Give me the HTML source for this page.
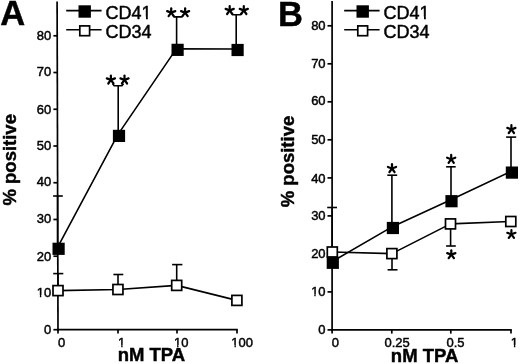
<!DOCTYPE html>
<html><head><meta charset="utf-8"><style>
html,body{margin:0;padding:0;background:#fff;overflow:hidden;}
svg{display:block;}
text{font-family:"Liberation Sans",sans-serif;fill:#000;stroke:#000;stroke-width:0.45px;}
</style></head><body>
<svg width="520" height="364" viewBox="0 0 520 364">
<defs><symbol id="ast" overflow="visible"><g stroke-width="2.2" stroke-linecap="round">
<line x1="0" y1="0" x2="0" y2="-4.3"/><line x1="0" y1="0" x2="-4.1" y2="-1.5"/><line x1="0" y1="0" x2="4.1" y2="-1.5"/>
<line x1="0" y1="0" x2="-2.6" y2="3.6"/><line x1="0" y1="0" x2="2.6" y2="3.6"/></g></symbol></defs>
<rect width="520" height="364" fill="#fff"/>
<g stroke="#000" fill="none">
<line x1="57.10" y1="1.50" x2="58.00" y2="330.50" stroke-width="1.7"/>
<line x1="57.20" y1="329.70" x2="237.80" y2="329.70" stroke-width="1.7"/>
<line x1="53.40" y1="329.70" x2="58.00" y2="329.70" stroke-width="1.7"/>
<line x1="53.40" y1="292.96" x2="57.90" y2="292.96" stroke-width="1.7"/>
<line x1="53.40" y1="256.22" x2="57.80" y2="256.22" stroke-width="1.7"/>
<line x1="53.40" y1="219.48" x2="57.70" y2="219.48" stroke-width="1.7"/>
<line x1="53.40" y1="182.74" x2="57.60" y2="182.74" stroke-width="1.7"/>
<line x1="53.40" y1="146.00" x2="57.50" y2="146.00" stroke-width="1.7"/>
<line x1="53.40" y1="109.26" x2="57.40" y2="109.26" stroke-width="1.7"/>
<line x1="53.40" y1="72.52" x2="57.30" y2="72.52" stroke-width="1.7"/>
<line x1="53.40" y1="35.78" x2="57.20" y2="35.78" stroke-width="1.7"/>
<line x1="58.00" y1="329.70" x2="58.00" y2="333.60" stroke-width="1.7"/>
<line x1="118.00" y1="329.70" x2="118.00" y2="333.60" stroke-width="1.7"/>
<line x1="177.00" y1="329.70" x2="177.00" y2="333.60" stroke-width="1.7"/>
<line x1="237.00" y1="329.70" x2="237.00" y2="333.60" stroke-width="1.7"/>
<line x1="57.60" y1="248.00" x2="57.60" y2="196.00" stroke-width="1.6"/>
<line x1="53.10" y1="196.00" x2="62.80" y2="196.00" stroke-width="1.6"/>
<line x1="118.20" y1="135.00" x2="118.20" y2="85.80" stroke-width="1.6"/>
<polyline points="112.60,83.80 114.20,85.80 121.90,85.80 123.50,83.80" fill="none" stroke-width="1.6" stroke-linejoin="round"/>
<line x1="176.60" y1="49.00" x2="176.60" y2="16.90" stroke-width="1.6"/>
<polyline points="172.60,14.90 174.20,16.90 181.70,16.90 183.30,14.90" fill="none" stroke-width="1.6" stroke-linejoin="round"/>
<line x1="236.20" y1="49.00" x2="236.20" y2="14.70" stroke-width="1.6"/>
<polyline points="231.30,12.70 232.90,14.70 240.20,14.70 241.80,12.70" fill="none" stroke-width="1.6" stroke-linejoin="round"/>
<polyline points="57.30,247.80 117.70,134.90 176.30,48.85 236.30,49.00" fill="none" stroke-width="1.6" stroke-linejoin="round"/>
<line x1="58.00" y1="290.00" x2="58.00" y2="273.60" stroke-width="1.6"/>
<line x1="53.20" y1="273.60" x2="63.30" y2="273.60" stroke-width="1.6"/>
<line x1="118.00" y1="289.00" x2="118.00" y2="274.50" stroke-width="1.6"/>
<line x1="113.40" y1="274.50" x2="123.30" y2="274.50" stroke-width="1.6"/>
<line x1="176.70" y1="285.00" x2="176.70" y2="264.60" stroke-width="1.6"/>
<line x1="172.10" y1="264.60" x2="182.40" y2="264.60" stroke-width="1.6"/>
<polyline points="58.00,290.60 117.95,289.50 176.70,285.40 236.90,300.40" fill="none" stroke-width="1.6" stroke-linejoin="round"/>
<rect x="52.50" y="242.70" width="12.2" height="12.2" fill="#000" stroke="none"/>
<rect x="112.90" y="129.80" width="12.2" height="12.2" fill="#000" stroke="none"/>
<rect x="171.50" y="43.75" width="12.2" height="12.2" fill="#000" stroke="none"/>
<rect x="231.50" y="43.90" width="12.2" height="12.2" fill="#000" stroke="none"/>
<rect x="53.00" y="285.60" width="10.0" height="10.0" fill="#fff" stroke-width="1.7"/>
<rect x="112.95" y="284.50" width="10.0" height="10.0" fill="#fff" stroke-width="1.7"/>
<rect x="171.70" y="280.40" width="10.0" height="10.0" fill="#fff" stroke-width="1.7"/>
<rect x="231.90" y="295.40" width="10.0" height="10.0" fill="#fff" stroke-width="1.7"/>
<use href="#ast" x="110.9" y="79.9"/>
<use href="#ast" x="124.5" y="79.9"/>
<use href="#ast" x="171.2" y="12.6"/>
<use href="#ast" x="185.1" y="12.6"/>
<use href="#ast" x="229.7" y="10.4"/>
<use href="#ast" x="243.8" y="10.4"/>
<line x1="66.20" y1="10.60" x2="101.60" y2="10.60" stroke-width="1.6"/>
<rect x="78.50" y="5.30" width="12.4" height="12.4" fill="#000" stroke="none"/>
<line x1="66.20" y1="29.80" x2="101.60" y2="29.80" stroke-width="1.6"/>
<rect x="79.80" y="25.90" width="9.8" height="9.8" fill="#fff" stroke-width="1.7"/>
<line x1="332.10" y1="1.00" x2="332.10" y2="330.70" stroke-width="1.7"/>
<line x1="331.30" y1="329.90" x2="511.80" y2="329.90" stroke-width="1.7"/>
<line x1="327.50" y1="329.90" x2="332.10" y2="329.90" stroke-width="1.7"/>
<line x1="327.50" y1="291.90" x2="332.10" y2="291.90" stroke-width="1.7"/>
<line x1="327.50" y1="253.90" x2="332.10" y2="253.90" stroke-width="1.7"/>
<line x1="327.50" y1="215.90" x2="332.10" y2="215.90" stroke-width="1.7"/>
<line x1="327.50" y1="177.90" x2="332.10" y2="177.90" stroke-width="1.7"/>
<line x1="327.50" y1="139.80" x2="332.10" y2="139.80" stroke-width="1.7"/>
<line x1="327.50" y1="101.80" x2="332.10" y2="101.80" stroke-width="1.7"/>
<line x1="327.50" y1="63.80" x2="332.10" y2="63.80" stroke-width="1.7"/>
<line x1="327.50" y1="25.80" x2="332.10" y2="25.80" stroke-width="1.7"/>
<line x1="332.10" y1="329.90" x2="332.10" y2="333.60" stroke-width="1.7"/>
<line x1="391.80" y1="329.90" x2="391.80" y2="333.60" stroke-width="1.7"/>
<line x1="450.80" y1="329.90" x2="450.80" y2="333.60" stroke-width="1.7"/>
<line x1="511.00" y1="329.90" x2="511.00" y2="333.60" stroke-width="1.7"/>
<line x1="332.20" y1="262.00" x2="332.20" y2="207.50" stroke-width="1.6"/>
<line x1="327.20" y1="207.50" x2="337.00" y2="207.50" stroke-width="1.6"/>
<line x1="391.90" y1="228.00" x2="391.90" y2="175.20" stroke-width="1.6"/>
<line x1="387.30" y1="175.20" x2="397.20" y2="175.20" stroke-width="1.6"/>
<line x1="451.00" y1="201.00" x2="451.00" y2="166.80" stroke-width="1.6"/>
<line x1="446.10" y1="166.80" x2="455.70" y2="166.80" stroke-width="1.6"/>
<line x1="511.00" y1="172.00" x2="511.00" y2="137.10" stroke-width="1.6"/>
<line x1="506.10" y1="137.10" x2="516.20" y2="137.10" stroke-width="1.6"/>
<line x1="392.00" y1="253.00" x2="392.00" y2="269.80" stroke-width="1.6"/>
<line x1="387.60" y1="269.80" x2="397.50" y2="269.80" stroke-width="1.6"/>
<line x1="450.60" y1="223.00" x2="450.60" y2="246.00" stroke-width="1.6"/>
<line x1="446.10" y1="246.00" x2="455.80" y2="246.00" stroke-width="1.6"/>
<polyline points="332.80,261.20 392.90,226.40 451.50,199.60 511.90,171.00" fill="none" stroke-width="1.6" stroke-linejoin="round"/>
<polyline points="332.30,252.00 391.90,253.60 450.50,223.90 510.80,221.50" fill="none" stroke-width="1.6" stroke-linejoin="round"/>
<rect x="327.30" y="247.00" width="10.0" height="10.0" fill="#fff" stroke-width="1.7"/>
<rect x="386.90" y="248.60" width="10.0" height="10.0" fill="#fff" stroke-width="1.7"/>
<rect x="445.50" y="218.90" width="10.0" height="10.0" fill="#fff" stroke-width="1.7"/>
<rect x="505.80" y="216.50" width="10.0" height="10.0" fill="#fff" stroke-width="1.7"/>
<rect x="326.70" y="256.70" width="12.2" height="12.2" fill="#000" stroke="none"/>
<rect x="386.80" y="221.90" width="12.2" height="12.2" fill="#000" stroke="none"/>
<rect x="445.40" y="195.10" width="12.2" height="12.2" fill="#000" stroke="none"/>
<rect x="505.80" y="166.50" width="12.2" height="12.2" fill="#000" stroke="none"/>
<use href="#ast" x="392" y="168.5"/>
<use href="#ast" x="451.2" y="159.2"/>
<use href="#ast" x="511.4" y="129.4"/>
<use href="#ast" x="451.3" y="254.6"/>
<use href="#ast" x="511.4" y="234.3"/>
<line x1="344.20" y1="10.60" x2="379.60" y2="10.60" stroke-width="1.6"/>
<rect x="356.50" y="5.30" width="12.4" height="12.4" fill="#000" stroke="none"/>
<line x1="344.20" y1="29.80" x2="379.60" y2="29.80" stroke-width="1.6"/>
<rect x="357.80" y="25.90" width="9.8" height="9.8" fill="#fff" stroke-width="1.7"/>
</g>
<g style="will-change:transform">
<text x="51.2" y="334" font-size="13" text-anchor="end" font-weight="normal" >0</text>
<text x="51.2" y="297" font-size="13" text-anchor="end" font-weight="normal" >10</text>
<text x="51.2" y="261" font-size="13" text-anchor="end" font-weight="normal" >20</text>
<text x="51.2" y="223" font-size="13" text-anchor="end" font-weight="normal" >30</text>
<text x="51.2" y="186" font-size="13" text-anchor="end" font-weight="normal" >40</text>
<text x="51.2" y="150" font-size="13" text-anchor="end" font-weight="normal" >50</text>
<text x="51.2" y="114" font-size="13" text-anchor="end" font-weight="normal" >60</text>
<text x="51.2" y="76" font-size="13" text-anchor="end" font-weight="normal" >70</text>
<text x="51.2" y="40" font-size="13" text-anchor="end" font-weight="normal" >80</text>
<text x="61.6" y="347" font-size="13" text-anchor="middle" font-weight="normal" >0</text>
<text x="121.7" y="347" font-size="13" text-anchor="middle" font-weight="normal" >1</text>
<text x="181.2" y="347" font-size="13" text-anchor="middle" font-weight="normal" >10</text>
<text x="242.2" y="347" font-size="13" text-anchor="middle" font-weight="normal" >100</text>
<text x="151.4" y="361" font-size="18.5" text-anchor="middle" font-weight="bold" >nM TPA</text>
<text x="0" y="0" font-size="18.5" text-anchor="middle" font-weight="bold" transform="translate(16.4,159.8) rotate(-90)">% positive</text>
<text x="0.3" y="25" font-size="34.5" text-anchor="start" font-weight="bold" >A</text>
<text x="105.6" y="19" font-size="18" text-anchor="start" font-weight="normal" >CD41</text>
<text x="105.6" y="38" font-size="18" text-anchor="start" font-weight="normal" >CD34</text>
<text x="325.6" y="334" font-size="13" text-anchor="end" font-weight="normal" >0</text>
<text x="325.6" y="296" font-size="13" text-anchor="end" font-weight="normal" >10</text>
<text x="325.6" y="258" font-size="13" text-anchor="end" font-weight="normal" >20</text>
<text x="325.6" y="220" font-size="13" text-anchor="end" font-weight="normal" >30</text>
<text x="325.6" y="183" font-size="13" text-anchor="end" font-weight="normal" >40</text>
<text x="325.6" y="144" font-size="13" text-anchor="end" font-weight="normal" >50</text>
<text x="325.6" y="105" font-size="13" text-anchor="end" font-weight="normal" >60</text>
<text x="325.6" y="68" font-size="13" text-anchor="end" font-weight="normal" >70</text>
<text x="325.6" y="30" font-size="13" text-anchor="end" font-weight="normal" >80</text>
<text x="335.3" y="347" font-size="13" text-anchor="middle" font-weight="normal" >0</text>
<text x="397.2" y="347" font-size="13" text-anchor="middle" font-weight="normal" >0.25</text>
<text x="455.5" y="347" font-size="13" text-anchor="middle" font-weight="normal" >0.5</text>
<text x="514.4" y="347" font-size="13" text-anchor="middle" font-weight="normal" >1</text>
<text x="424.6" y="362" font-size="18.5" text-anchor="middle" font-weight="bold" >nM TPA</text>
<text x="0" y="0" font-size="18.5" text-anchor="middle" font-weight="bold" transform="translate(293.8,161.5) rotate(-90)">% positive</text>
<text x="277.9" y="26" font-size="34.5" text-anchor="start" font-weight="bold" >B</text>
<text x="383.6" y="19" font-size="18" text-anchor="start" font-weight="normal" >CD41</text>
<text x="383.6" y="38" font-size="18" text-anchor="start" font-weight="normal" >CD34</text>
</g>
<g fill="#fff" stroke="none">
<rect x="36.89" y="294.93" width="2.97" height="3.07"/>
<rect x="41.28" y="294.93" width="2.72" height="3.07"/>
<rect x="118.24" y="344.93" width="2.97" height="3.07"/>
<rect x="122.62" y="344.93" width="2.72" height="3.07"/>
<rect x="174.12" y="344.93" width="2.97" height="3.07"/>
<rect x="178.51" y="344.93" width="2.72" height="3.07"/>
<rect x="231.51" y="344.93" width="2.97" height="3.07"/>
<rect x="235.89" y="344.93" width="2.72" height="3.07"/>
<rect x="142.13" y="16.56" width="3.86" height="3.44"/>
<rect x="147.85" y="16.56" width="3.57" height="3.44"/>
<rect x="311.29" y="293.93" width="2.97" height="3.07"/>
<rect x="315.68" y="293.93" width="2.72" height="3.07"/>
<rect x="510.94" y="344.93" width="2.97" height="3.07"/>
<rect x="515.32" y="344.93" width="2.72" height="3.07"/>
<rect x="420.13" y="16.56" width="3.86" height="3.44"/>
<rect x="425.85" y="16.56" width="3.57" height="3.44"/>
</g>
</svg>
</body></html>
